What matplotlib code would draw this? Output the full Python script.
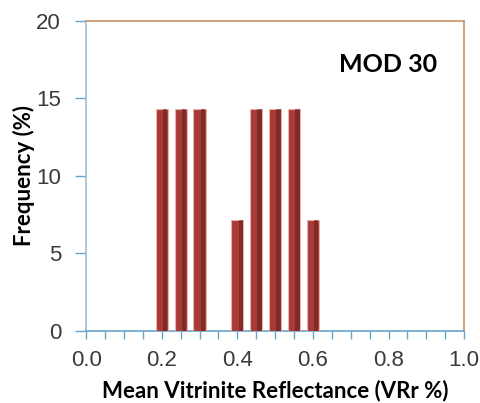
import matplotlib
matplotlib.use("Agg")
import matplotlib.pyplot as plt
import numpy as np

vr_centers = [0.20, 0.25, 0.30, 0.40, 0.45, 0.50, 0.55, 0.60]
frequency = [14.29, 14.29, 14.29, 7.14, 14.29, 14.29, 14.29, 7.14]
x_ticks = [0.0, 0.2, 0.4, 0.6, 0.8, 1.0]
x_tick_labels = ["0.0", "0.2", "0.4", "0.6", "0.8", "1.0"]
y_ticks = [0, 5, 10, 15, 20]
sample_label = "MOD 30"

fig = plt.figure(figsize=(4.81, 4.03), dpi=100)
ax = fig.add_axes([0.179, 0.179, 0.786, 0.769])

bar_w = 0.032
ax.bar(vr_centers, frequency, width=bar_w, color="#A83B37",
       edgecolor="#EBB0A8", linewidth=0.8, zorder=3)
# darker right-side shading for a cylinder-like look
ax.bar(np.array(vr_centers) + bar_w * 0.28, frequency, width=bar_w * 0.35,
       color="#5E1E1C", alpha=0.55, linewidth=0, zorder=4)

ax.set_xlim(0, 1.0)
ax.set_ylim(0, 20)
ax.set_xticks(x_ticks)
ax.set_xticklabels(x_tick_labels)
ax.set_xticks(np.arange(0, 1.0001, 0.05), minor=True)
ax.set_yticks(y_ticks)

tick_col = "#6AA3C8"
ax.tick_params(axis="x", which="both", direction="out", length=6, width=1,
               color=tick_col, labelsize=16, labelcolor="#3a3a3a", pad=8)
ax.tick_params(axis="y", which="major", direction="out", length=8, width=1,
               color=tick_col, labelsize=16, labelcolor="#3a3a3a", pad=10)
for lab in ax.get_xticklabels() + ax.get_yticklabels():
    lab.set_fontfamily("Liberation Sans")

ax.spines["left"].set_color("#9DBFD6")
ax.spines["bottom"].set_color("#6AA3C8")
ax.spines["top"].set_color("#C8926A")
ax.spines["right"].set_color("#C8926A")
for s in ax.spines.values():
    s.set_linewidth(1.2)

ax.set_xlabel("Mean Vitrinite Reflectance (VRr %)", fontsize=16, fontweight="bold",
              family="Lato", labelpad=6)
ax.set_ylabel("Frequency (%)", fontsize=16, fontweight="bold", family="Lato",
              labelpad=1)
ax.text(0.929, 17.2, sample_label, fontsize=18, fontweight="bold", family="Lato",
        ha="right", va="center")

fig.savefig("out.png", dpi=100)
